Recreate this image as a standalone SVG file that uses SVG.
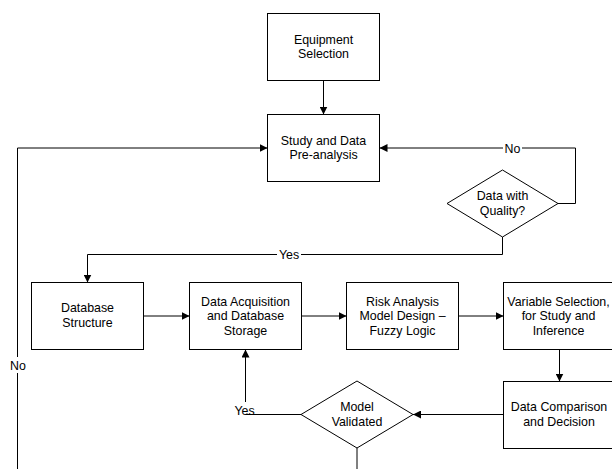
<svg xmlns="http://www.w3.org/2000/svg" width="612" height="469" viewBox="0 0 612 469">
  <style>
    .box { fill: #ffffff; stroke: #000000; stroke-width: 1; }
    .lbl { font-family: "Liberation Sans", Arial, sans-serif; font-size: 12.4px; fill: #000000; text-anchor: middle; }
    .conn { fill: none; stroke: #000000; stroke-width: 1; }
    .bg { fill: #ffffff; stroke: none; }
  </style>
  <defs>
    <marker id="arrow" viewBox="0 0 8 8" refX="8" refY="4" markerWidth="8" markerHeight="8" markerUnits="userSpaceOnUse" orient="auto">
      <path d="M0,0 L8,4 L0,8 z" fill="#000000"/>
    </marker>
  </defs>
  <rect width="612" height="469" fill="#ffffff"/>

  <g id="connectors">
    <path class="conn" d="M323.5,80.5 V114.5" marker-end="url(#arrow)"/>
    <path class="conn" d="M17.5,469 V148 H267.5" marker-end="url(#arrow)"/>
    <path class="conn" d="M558,203.5 H575.5 V148 H379.5" marker-end="url(#arrow)"/>
    <path class="conn" d="M502.5,237 V254.5 H87.5 V282.5" marker-end="url(#arrow)"/>
    <path class="conn" d="M143.5,316 H189.5" marker-end="url(#arrow)"/>
    <path class="conn" d="M301.5,316 H346.5" marker-end="url(#arrow)"/>
    <path class="conn" d="M458.5,316 H503.5" marker-end="url(#arrow)"/>
    <path class="conn" d="M559.5,349.5 V381.5" marker-end="url(#arrow)"/>
    <path class="conn" d="M503.5,414.5 H413" marker-end="url(#arrow)"/>
    <path class="conn" d="M301,414.5 H245.5 V349.5" marker-end="url(#arrow)"/>
    <path class="conn" d="M357,448 V469"/>
    <rect class="bg" x="503" y="141" width="19" height="14"/>
    <text class="lbl" x="512.5" y="152.5">No</text>
    <rect class="bg" x="277" y="248" width="24" height="14"/>
    <text class="lbl" x="289" y="258.5">Yes</text>
    <rect class="bg" x="9" y="357" width="18" height="16"/>
    <text class="lbl" x="18" y="369.5">No</text>
    <rect class="bg" x="232" y="402" width="25" height="12"/>
    <text class="lbl" x="244.5" y="414.5">Yes</text>
  </g>

  <g id="equipment-selection">
    <rect class="box" x="267.5" y="13.5" width="112" height="67"/>
    <text class="lbl" x="323.5" y="43.5">Equipment</text>
    <text class="lbl" x="323.5" y="57.5">Selection</text>
  </g>

  <g id="study-preanalysis">
    <rect class="box" x="267.5" y="114.5" width="112" height="67"/>
    <text class="lbl" x="323.5" y="144.5">Study and Data</text>
    <text class="lbl" x="323.5" y="159">Pre-analysis</text>
  </g>

  <g id="data-quality">
    <polygon class="box" points="447,203.5 502.5,170 558,203.5 502.5,237"/>
    <text class="lbl" x="502.5" y="200">Data with</text>
    <text class="lbl" x="502.5" y="214.5">Quality?</text>
  </g>

  <g id="database-structure">
    <rect class="box" x="31.5" y="282.5" width="112" height="67"/>
    <text class="lbl" x="87.5" y="312">Database</text>
    <text class="lbl" x="87.5" y="326.5">Structure</text>
  </g>

  <g id="data-acquisition">
    <rect class="box" x="189.5" y="282.5" width="112" height="67"/>
    <text class="lbl" x="245.5" y="305.5">Data Acquisition</text>
    <text class="lbl" x="245.5" y="320">and Database</text>
    <text class="lbl" x="245.5" y="335">Storage</text>
  </g>

  <g id="risk-analysis">
    <rect class="box" x="346.5" y="282.5" width="112" height="67"/>
    <text class="lbl" x="402.5" y="305.5">Risk Analysis</text>
    <text class="lbl" x="402.5" y="320">Model Design –</text>
    <text class="lbl" x="402.5" y="335">Fuzzy Logic</text>
  </g>

  <g id="variable-selection">
    <rect class="box" x="503.5" y="282.5" width="112" height="67"/>
    <text class="lbl" x="558.5" y="305.5">Variable Selection,</text>
    <text class="lbl" x="558.5" y="320">for Study and</text>
    <text class="lbl" x="558.5" y="335">Inference</text>
  </g>

  <g id="data-comparison">
    <rect class="box" x="503.5" y="381.5" width="112" height="67"/>
    <text class="lbl" x="559" y="411">Data Comparison</text>
    <text class="lbl" x="559" y="426">and Decision</text>
  </g>

  <g id="model-validated">
    <polygon class="box" points="301,414.5 357,381 413,414.5 357,448"/>
    <text class="lbl" x="357" y="411">Model</text>
    <text class="lbl" x="357" y="426">Validated</text>
  </g>
</svg>
